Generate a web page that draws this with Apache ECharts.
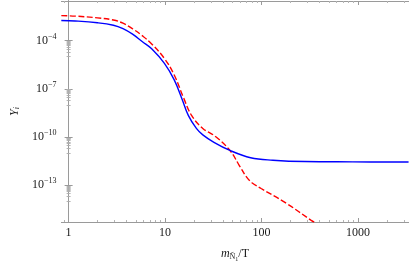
<!DOCTYPE html>
<html>
<head>
<meta charset="utf-8">
<script src="https://cdn.jsdelivr.net/npm/echarts@6/dist/echarts.min.js"></script>
<style>html,body{margin:0;padding:0;background:#fff;}#c{width:411px;height:267px;}</style>
</head>
<body>
<div id="c"></div>
<script>
// ---- data ----
const blueX = [0.84, 1.17, 1.99, 2.91, 3.66, 4.6, 5.78, 7.26, 9.84, 12.4, 15.0, 17.4, 21.1, 24.6, 32.1, 47, 77, 131, 281, 880, 3340];
const blueY = [1.8e-3, 1.68e-3, 1.31e-3, 9.2e-4, 5.65e-4, 2.55e-4, 8.9e-5, 3.13e-5, 3.86e-6, 3.74e-7, 2.29e-8, 2.25e-9, 3.46e-10, 1.37e-10, 4.7e-11, 1.47e-11, 5.2e-12, 3.64e-12, 2.99e-12, 2.87e-12, 2.79e-12];
const redX = [0.84, 1.17, 1.99, 2.91, 3.66, 4.6, 5.78, 7.26, 9.84, 12.4, 15.5, 18.8, 24.6, 33.3, 47, 59, 70, 80, 99, 178, 327, 395];
const redY = [3.63e-3, 3.38e-3, 2.63e-3, 1.93e-3, 1.22e-3, 5.5e-4, 2.07e-4, 6.31e-5, 7.76e-6, 7.52e-7, 2.9e-8, 2.25e-9, 3.46e-10, 1.08e-10, 1.47e-11, 1.64e-12, 3.2e-13, 1.4e-13, 6.3e-14, 8.0e-15, 6.6e-16, 3.3e-16];
const xTickLabels = ['1', '10', '100', '1000'];
const xTickExps = [0, 1, 2, 3];
const yTickExps = [-13, -10, -7, -4];
const xRange = [0.842, 3333];
const yRange = [5.18e-16, 2.95e-2];

// ---- build ----
const L = Math.log10;
const XMIN = L(xRange[0]), XMAX = L(xRange[1]);
const YMIN = L(yRange[0]), YMAX = L(yRange[1]);
const toPts = (xs, ys) => xs.map((x, i) => [L(x), L(ys[i])]);

const xMinor = [];
for (let n = -1; n <= 3; n++) for (let k = 2; k <= 9; k++) { const v = n + L(k); if (v > XMIN && v < XMAX) xMinor.push(v); }
const yMinor = [];
yTickExps.forEach(n => { for (let k = 1; k <= 9; k++) yMinor.push(n - 1 + L(k)); });

const FRAME = '#9a9a9a';
const MINOR = '#b4b4b4';
const TXT = '#1a1a1a';
const SERIF = '"Liberation Serif", "DejaVu Serif", serif';

function xAx(pos, ticks, len, labels, color, extra) {
  return Object.assign({
    type: 'value', position: pos, min: XMIN, max: XMAX,
    axisLine: { show: true, lineStyle: { color: FRAME, width: 1 } },
    axisTick: { show: true, inside: true, length: len, customValues: ticks, lineStyle: { color: color } },
    axisLabel: labels ? {
      show: true, customValues: xTickExps, margin: 5,
      formatter: v => xTickLabels[xTickExps.indexOf(Math.round(v))],
      fontFamily: SERIF, fontSize: 12, color: TXT
    } : { show: false },
    splitLine: { show: false }
  }, extra || {});
}
function yAx(pos, ticks, len, labels, color, extra) {
  return Object.assign({
    type: 'value', position: pos, min: YMIN, max: YMAX,
    axisLine: { show: true, lineStyle: { color: FRAME, width: 1 } },
    axisTick: { show: true, inside: true, length: len, customValues: ticks, lineStyle: { color: color } },
    axisLabel: labels ? {
      show: true, customValues: yTickExps, margin: 5,
      formatter: v => '{b|10}{s|\u2212' + Math.abs(Math.round(v)) + '}',
      rich: {
        b: { fontFamily: SERIF, fontSize: 12, color: TXT, lineHeight: 14 },
        s: { fontFamily: SERIF, fontSize: 8, color: TXT, lineHeight: 8, padding: [0, 0, 7, 0], verticalAlign: 'bottom' }
      }
    } : { show: false },
    splitLine: { show: false }
  }, extra || {});
}

const chart = echarts.init(document.getElementById('c'), null, { renderer: 'canvas' });
chart.setOption({
  animation: false,
  backgroundColor: '#fff',
  grid: { left: 45.5, right: 2.5, top: 1, bottom: 39, containLabel: false },
  xAxis: [
    xAx('bottom', xTickExps, 4, true, FRAME, {
      name: '{m|m}{s|\u00d1}{ss|1}{n|/T}', nameLocation: 'middle', nameGap: 25,
      nameTextStyle: {
        rich: {
          m: { fontFamily: SERIF, fontStyle: 'italic', fontSize: 12, color: TXT, lineHeight: 14 },
          s: { fontFamily: SERIF, fontSize: 8, color: TXT, lineHeight: 8, padding: [6, 0, 0, 0], verticalAlign: 'top' },
          ss: { fontFamily: SERIF, fontSize: 6, color: TXT, lineHeight: 6, padding: [9, 0, 0, 0], verticalAlign: 'top' },
          n: { fontFamily: SERIF, fontSize: 12, color: TXT, lineHeight: 14 }
        }
      }
    }),
    xAx('bottom', xMinor, 2, false, MINOR),
    xAx('top', xTickExps, 4, false, FRAME),
    xAx('top', xMinor, 2, false, MINOR)
  ],
  yAxis: [
    yAx('left', yTickExps, 4, true, FRAME, {
      name: '{y|Y}{i|i}', nameLocation: 'middle', nameGap: 33, nameRotate: 90,
      nameTextStyle: {
        rich: {
          y: { fontFamily: SERIF, fontStyle: 'italic', fontSize: 12, color: TXT, lineHeight: 14 },
          i: { fontFamily: SERIF, fontStyle: 'italic', fontSize: 8, color: TXT, lineHeight: 8, padding: [5, 0, 0, 0], verticalAlign: 'top' }
        }
      }
    }),
    yAx('left', yMinor, 2, false, MINOR),
    yAx('right', yTickExps, 4, false, FRAME),
    yAx('right', yMinor, 2, false, MINOR)
  ],
  series: [
    {
      type: 'line', xAxisIndex: 0, yAxisIndex: 0, data: toPts(redX, redY),
      showSymbol: false, smooth: 0.4, clip: true,
      lineStyle: { color: '#ff0000', width: 1.4, type: [6, 2.5] }, z: 3
    },
    {
      type: 'line', xAxisIndex: 0, yAxisIndex: 0, data: toPts(blueX, blueY),
      showSymbol: false, smooth: 0.4, clip: true,
      lineStyle: { color: '#0000ff', width: 1.4 }, z: 4
    }
  ]
});
</script>
</body>
</html>
